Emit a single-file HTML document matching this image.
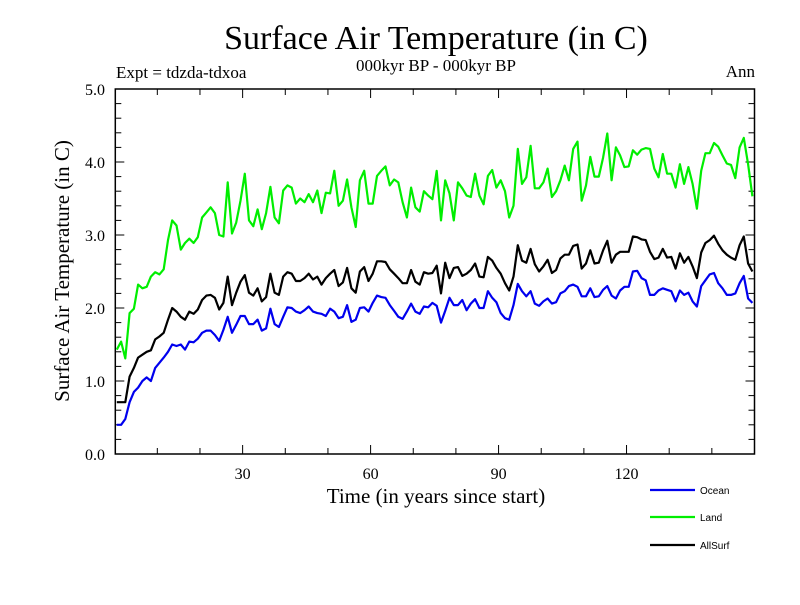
<!DOCTYPE html>
<html><head><meta charset="utf-8"><style>
body{margin:0;background:#fff}
svg text{font-family:"Liberation Serif",serif}
</style></head><body>
<svg id="chart" width="800" height="600" viewBox="0 0 800 600" xmlns="http://www.w3.org/2000/svg">
<rect width="800" height="600" fill="#fff"/>
<text x="436" y="49" font-size="34" text-anchor="middle">Surface Air Temperature (in C)</text>
<text x="116" y="78" font-size="17">Expt = tdzda-tdxoa</text>
<text x="436" y="71" font-size="17" text-anchor="middle">000kyr BP - 000kyr BP</text>
<text x="755" y="77" font-size="17" text-anchor="end">Ann</text>
<text transform="translate(69,271) rotate(-90)" font-size="21" text-anchor="middle">Surface Air Temperature (in C)</text>
<text x="436" y="503" font-size="21" text-anchor="middle">Time (in years since start)</text>
<g id="axes"></g>
<g id="series"></g>
<g id="legend"></g>
</svg>
<script>
const years = Array.from({length:150},(_, i)=>i+1);
const landValues = [1.43,1.54,1.31,1.93,1.99,2.32,2.27,2.29,2.43,2.49,2.46,2.53,2.93,3.2,3.13,2.8,2.89,2.95,2.89,2.97,3.24,3.31,3.38,3.3,3.0,2.98,3.72,3.02,3.17,3.47,3.84,3.2,3.12,3.35,3.08,3.3,3.66,3.24,3.16,3.61,3.68,3.65,3.43,3.5,3.45,3.56,3.45,3.61,3.3,3.58,3.57,3.88,3.4,3.47,3.76,3.38,3.11,3.75,3.88,3.43,3.43,3.81,3.88,3.94,3.68,3.76,3.72,3.45,3.24,3.65,3.38,3.32,3.6,3.54,3.49,3.88,3.2,3.75,3.57,3.2,3.72,3.64,3.54,3.52,3.84,3.54,3.42,3.81,3.89,3.65,3.75,3.6,3.24,3.4,4.18,3.7,3.79,4.22,3.64,3.64,3.72,3.91,3.52,3.6,3.75,3.95,3.75,4.18,4.28,3.47,3.68,4.07,3.8,3.8,4.06,4.39,3.75,4.2,4.09,3.93,3.94,4.16,4.1,4.17,4.19,4.18,3.91,3.79,4.11,3.84,3.84,3.65,3.97,3.7,3.93,3.7,3.36,3.88,4.12,4.12,4.26,4.21,4.09,3.98,3.96,3.78,4.2,4.33,3.97,3.53];
const allSurfValues = [0.71,0.71,0.71,1.06,1.18,1.32,1.36,1.4,1.42,1.57,1.61,1.66,1.84,2.0,1.95,1.88,1.84,1.95,1.92,1.98,2.11,2.17,2.18,2.14,1.98,2.07,2.43,2.04,2.21,2.36,2.45,2.21,2.17,2.27,2.09,2.15,2.47,2.21,2.18,2.43,2.49,2.47,2.37,2.37,2.41,2.47,2.39,2.43,2.32,2.41,2.47,2.52,2.3,2.35,2.55,2.27,2.21,2.5,2.56,2.37,2.47,2.64,2.64,2.63,2.53,2.47,2.41,2.34,2.34,2.52,2.36,2.32,2.49,2.47,2.48,2.58,2.2,2.62,2.41,2.55,2.56,2.44,2.47,2.52,2.61,2.43,2.42,2.7,2.65,2.55,2.47,2.34,2.24,2.43,2.86,2.65,2.62,2.81,2.6,2.5,2.57,2.66,2.48,2.52,2.68,2.73,2.73,2.85,2.87,2.54,2.61,2.79,2.61,2.62,2.79,2.92,2.62,2.73,2.77,2.77,2.77,2.98,2.97,2.94,2.93,2.77,2.67,2.69,2.81,2.69,2.7,2.54,2.75,2.62,2.7,2.57,2.41,2.76,2.89,2.93,2.99,2.88,2.79,2.73,2.69,2.66,2.86,2.98,2.61,2.5];
const oceanValues = [0.4,0.4,0.48,0.71,0.85,0.91,1.0,1.05,1.0,1.18,1.25,1.32,1.4,1.5,1.48,1.5,1.43,1.54,1.53,1.58,1.66,1.69,1.69,1.63,1.55,1.7,1.88,1.66,1.77,1.89,1.89,1.78,1.78,1.84,1.69,1.72,1.99,1.78,1.74,1.88,2.01,2.0,1.95,1.93,1.97,2.02,1.95,1.93,1.92,1.89,1.99,1.95,1.86,1.88,2.04,1.81,1.84,2.0,2.01,1.95,2.07,2.17,2.15,2.14,2.04,1.96,1.88,1.85,1.95,2.06,1.95,1.92,2.02,2.01,2.07,2.03,1.8,1.96,2.14,2.04,2.04,2.11,1.97,2.06,2.12,2.0,2.0,2.23,2.14,2.08,1.93,1.86,1.84,2.04,2.33,2.23,2.16,2.23,2.06,2.03,2.09,2.13,2.06,2.08,2.2,2.23,2.3,2.32,2.29,2.16,2.16,2.27,2.15,2.16,2.25,2.3,2.17,2.13,2.24,2.29,2.29,2.5,2.51,2.41,2.38,2.18,2.18,2.24,2.27,2.25,2.23,2.09,2.24,2.18,2.21,2.09,2.02,2.3,2.38,2.46,2.48,2.34,2.27,2.18,2.18,2.2,2.34,2.44,2.13,2.07];
const yTickLabels = ["0.0","1.0","2.0","3.0","4.0","5.0"];
const xTickLabels = ["30","60","90","120"];

const NS="http://www.w3.org/2000/svg";
const L=115.3,R=754.5,T=89,B=454;
const xs=t=>L+(t-0.15)*(R-L)/149.85;
const ys=v=>B-v*(B-T)/5;
function mk(tag,attrs,parent){const e=document.createElementNS(NS,tag);for(const k in attrs)e.setAttribute(k,attrs[k]);parent.appendChild(e);return e;}
const axes=document.getElementById('axes');
let f=mk('rect',{x:L,y:T,width:R-L,height:B-T,fill:'none',stroke:'#000','stroke-width':1.5},axes);


for(let i=0;i<=25;i++){
  const v=i*0.2,y=ys(v),len=(i%5===0)?9:6;
  let t1=mk('line',{x1:L,y1:y,x2:L+len,y2:y,stroke:'#000','stroke-width':1},axes);
  
  
  let t2=mk('line',{x1:R,y1:y,x2:R-len,y2:y,stroke:'#000','stroke-width':1},axes);
  
  
}
yTickLabels.forEach(s=>{
  let t=mk('text',{x:105,y:ys(parseFloat(s))+6,'font-size':16,'text-anchor':'end'},axes);t.textContent=s;
  
  
});
for(let yr=10;yr<150;yr+=10){
  const x=xs(yr),len=(yr%30===0)?9:6;
  let t1=mk('line',{x1:x,y1:B,x2:x,y2:B-len,stroke:'#000','stroke-width':1},axes);
  
  
  let t2=mk('line',{x1:x,y1:T,x2:x,y2:T+len,stroke:'#000','stroke-width':1},axes);
  
  
}
xTickLabels.forEach(s=>{
  let t=mk('text',{x:xs(parseFloat(s)),y:479,'font-size':16,'text-anchor':'middle'},axes);t.textContent=s;
  
  
});
const series=document.getElementById('series');
function line(vals,color,name){
  const d=vals.map((v,i)=>(i?'L':'M')+xs(years[i]-0.5).toFixed(1)+','+ys(v).toFixed(1)).join('');
  let p=mk('path',{d:d,fill:'none',stroke:color,'stroke-width':2.2,'stroke-linejoin':'round'},series);
  
  
}
line(landValues,'#00ee00','land-line');
line(allSurfValues,'#000000','allsurf-line');
line(oceanValues,'#0000ee','ocean-line');
const legend=document.getElementById('legend');
[['Ocean','#0000ee',490],['Land','#00ee00',517],['AllSurf','#000',545]].forEach(([n,c,y])=>{
  let g=mk('g',{},legend);
  
  
  mk('line',{x1:650,y1:y,x2:695,y2:y,stroke:c,'stroke-width':2.2},g);
  let t=mk('text',{x:700,y:y+4,'font-size':10,style:'font-family:"Liberation Sans",sans-serif'},g);t.textContent=n;
});
</script>
</body></html>
